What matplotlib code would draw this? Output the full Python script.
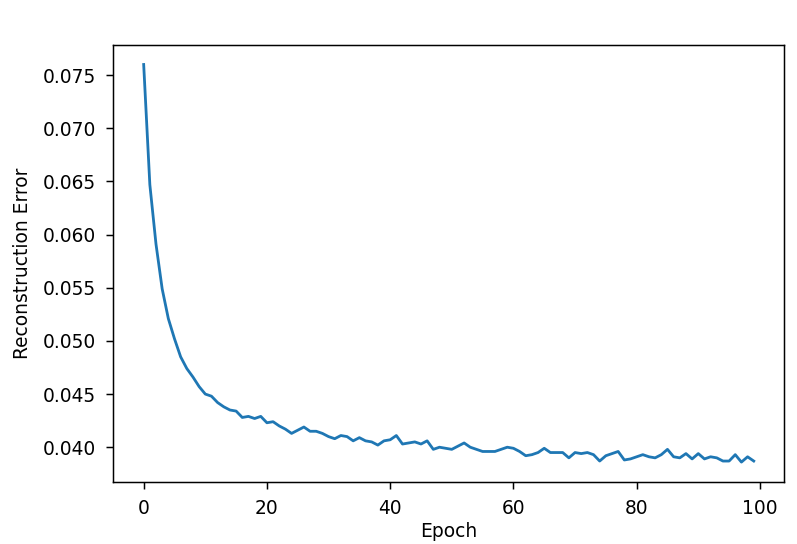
import numpy as np
import matplotlib.pyplot as plt

# reconstruction error per epoch
epochs = np.arange(100)
recon_error = [
    0.0760, 0.0647, 0.0591, 0.0549, 0.0521, 0.0502, 0.0485, 0.0474, 0.0466, 0.0457,
    0.0450, 0.0448, 0.0442, 0.0438, 0.0435, 0.0434, 0.0428, 0.0429, 0.0427, 0.0429,
    0.0423, 0.0424, 0.0420, 0.0417, 0.0413, 0.0416, 0.0419, 0.0415, 0.0415, 0.0413,
    0.0410, 0.0408, 0.0411, 0.0410, 0.0406, 0.0409, 0.0406, 0.0405, 0.0402, 0.0406,
    0.0407, 0.0411, 0.0403, 0.0404, 0.0405, 0.0403, 0.0406, 0.0398, 0.0400, 0.0399,
    0.0398, 0.0401, 0.0404, 0.0400, 0.0398, 0.0396, 0.0396, 0.0396, 0.0398, 0.0400,
    0.0399, 0.0396, 0.0392, 0.0393, 0.0395, 0.0399, 0.0395, 0.0395, 0.0395, 0.0390,
    0.0395, 0.0394, 0.0395, 0.0393, 0.0387, 0.0392, 0.0394, 0.0396, 0.0388, 0.0389,
    0.0391, 0.0393, 0.0391, 0.0390, 0.0393, 0.0398, 0.0391, 0.0390, 0.0394, 0.0389,
    0.0394, 0.0389, 0.0391, 0.0390, 0.0387, 0.0387, 0.0393, 0.0386, 0.0391, 0.0387,
]

scale = 1.34
plt.rcParams["font.size"] = 10 * scale
plt.rcParams["axes.linewidth"] = 0.8 * scale
plt.rcParams["xtick.major.size"] = 3.5 * scale
plt.rcParams["ytick.major.size"] = 3.5 * scale
plt.rcParams["xtick.major.width"] = 0.8 * scale
plt.rcParams["ytick.major.width"] = 0.8 * scale
plt.rcParams["xtick.major.pad"] = 7.5
plt.rcParams["ytick.major.pad"] = 7.7

fig = plt.figure(figsize=(7.97, 5.44), dpi=100)
ax = fig.add_axes([0.142, 0.114, 0.842, 0.804])
ax.plot(epochs, recon_error, color="#1f77b4", linewidth=1.5 * scale)
ax.set_xlabel("Epoch", labelpad=3)
ax.set_ylabel("Reconstruction Error", labelpad=7.5)
ax.set_xticks([0, 20, 40, 60, 80, 100])
ax.set_yticks([0.040, 0.045, 0.050, 0.055, 0.060, 0.065, 0.070, 0.075])

fig.savefig("out.png", dpi=100)
